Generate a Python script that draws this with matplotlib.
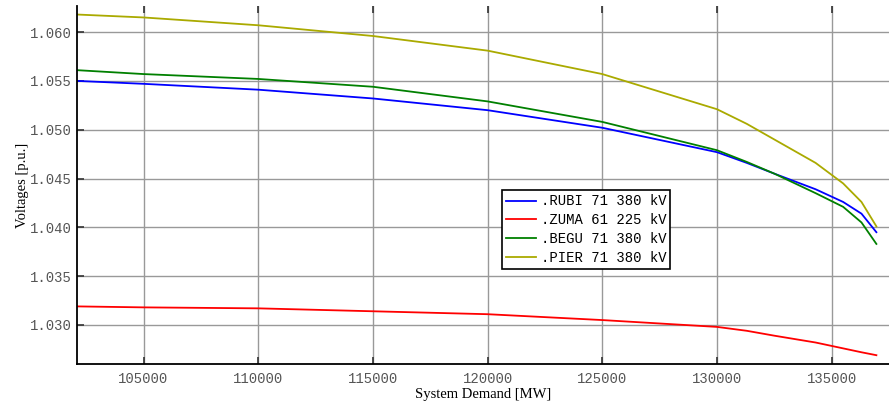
import numpy as np
import matplotlib.pyplot as plt

demand = [102100, 105000, 110000, 115000, 120000, 125000, 130000,
          131300, 132500, 134300, 135500, 136300, 136950]

rubi = [1.0550, 1.0547, 1.0541, 1.0532, 1.0520, 1.0502, 1.0477,
        1.0466, 1.0455, 1.0439, 1.0426, 1.0414, 1.0395]
zuma = [1.0319, 1.0318, 1.0317, 1.0314, 1.0311, 1.0305, 1.0298,
        1.0294, 1.0289, 1.0282, 1.0276, 1.0272, 1.0269]
begu = [1.0561, 1.0557, 1.0552, 1.0544, 1.0529, 1.0508, 1.0479,
        1.0467, 1.0455, 1.0435, 1.0421, 1.0405, 1.0383]
pier = [1.0618, 1.0615, 1.0607, 1.0596, 1.0581, 1.0557, 1.0521,
        1.0506, 1.0490, 1.0466, 1.0445, 1.0426, 1.0401]

xticks = [105000, 110000, 115000, 120000, 125000, 130000, 135000]
yticks = [1.030, 1.035, 1.040, 1.045, 1.050, 1.055, 1.060]

mono = 'Liberation Mono'
serif = 'Liberation Serif'

fig = plt.figure(figsize=(8.89, 4.03), dpi=100)
ax = fig.add_axes([0.0866, 0.0968, 0.9134, 0.888])

ax.plot(demand, rubi, color='#0000ff', linewidth=1.3, label='.RUBI 71 380 kV')
ax.plot(demand, zuma, color='#ff0000', linewidth=1.3, label='.ZUMA 61 225 kV')
ax.plot(demand, begu, color='#008000', linewidth=1.3, label='.BEGU 71 380 kV')
ax.plot(demand, pier, color='#aaaa00', linewidth=1.3, label='.PIER 71 380 kV')

ax.set_xlim(102100, 137500)
ax.set_ylim(1.0260, 1.06266)
ax.set_xticks(xticks)
ax.set_yticks(yticks)
ax.set_xticklabels([str(t) for t in xticks], family=mono, fontsize=10, color='#555555')
ax.set_yticklabels(['%.3f' % t for t in yticks], family=mono, fontsize=10, color='#555555')

ax.grid(True, color='#999999', linewidth=1.0)
ax.tick_params(direction='in', length=5, width=1.2, color='#333333', top=True)
ax.tick_params(axis='x', pad=6)
for side in ['top', 'right']:
    ax.spines[side].set_visible(False)
for side in ['left', 'bottom']:
    ax.spines[side].set_linewidth(1.3)

ax.set_xlabel('System Demand [MW]', family=serif, fontsize=10.5, labelpad=1)
ax.set_ylabel('Voltages [p.u.]', family=serif, fontsize=10.5, labelpad=1)

leg = ax.legend(loc='lower left', bbox_to_anchor=(0.523, 0.265),
                prop={'family': mono, 'size': 10}, fancybox=False,
                framealpha=1, edgecolor='black', handlelength=2.2,
                borderpad=0.3, labelspacing=0.35, handletextpad=0.3,
                borderaxespad=0)
leg.get_frame().set_linewidth(1.2)

fig.savefig('out.png', dpi=100)
